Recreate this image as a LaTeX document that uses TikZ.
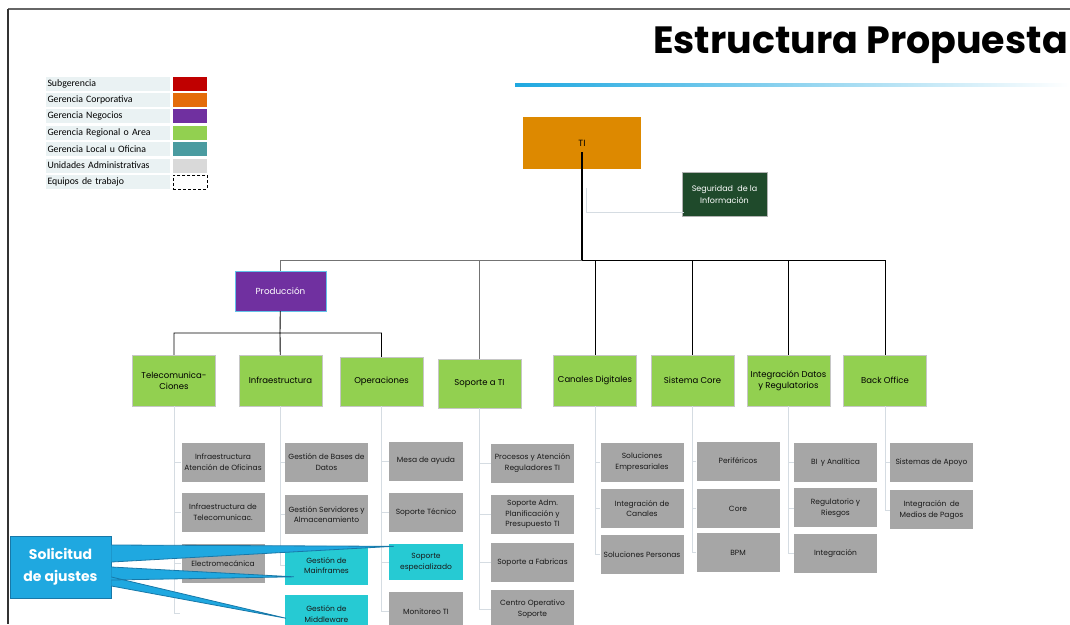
\documentclass[tikz,border=0pt]{standalone}
\usepackage{fontspec}
\setmainfont{Poppins}
\newfontfamily\legendfont{Carlito}
\usetikzlibrary{positioning, calc}

\definecolor{subred}{HTML}{C00000}
\definecolor{corporange}{HTML}{E46C0A}
\definecolor{negpurple}{HTML}{7030A0}
\definecolor{areagreen}{HTML}{92D050}
\definecolor{localteal}{HTML}{4A9BA0}
\definecolor{admgray}{HTML}{D9D9D9}
\definecolor{legendbg}{HTML}{EAF2F3}
\definecolor{tiorange}{HTML}{DD8900}
\definecolor{segreen}{HTML}{1F4A2B}
\definecolor{teamgray}{HTML}{A6A6A6}
\definecolor{adjcyan}{HTML}{26CAD3}
\definecolor{askblue}{HTML}{1FA8E0}
\definecolor{askedge}{HTML}{1878A8}
\definecolor{linegray}{HTML}{D5DCE2}

\tikzset{
    orgchart/.style={x=1pt, y=-1pt, font=\fontsize{7.5}{10.5}\selectfont, node distance=11pt},
    box/.style={minimum width=83pt, minimum height=39pt, align=center, inner sep=1pt},
    area/.style={box, draw=gray!45, fill=areagreen, minimum height=51pt, font=\fontsize{8.5}{11}\selectfont},
    team/.style={box, fill=teamgray, text=black!90},
    adjust/.style={box, fill=adjcyan, text=black!90},
    link/.style={draw=black, line width=0.9pt},
    sublink/.style={draw=linegray, line width=0.8pt},
    legendlab/.style={fill=legendbg, minimum width=124pt, minimum height=14pt, text width=121pt,
        align=left, inner sep=1.5pt, font=\legendfont\fontsize{9.8}{10}\selectfont},
    swatch/.style={minimum width=34pt, minimum height=14pt, inner sep=0pt, right=3pt of #1},
    callout/.style={fill=askblue, draw=askedge, line width=0.8pt, text=white, align=center,
        minimum width=101pt, minimum height=62pt, font=\bfseries\fontsize{14}{22}\selectfont},
}

\begin{document}
\begin{tikzpicture}[orgchart]
    \useasboundingbox (0,0) rectangle (1070,624);

    % frame and title
    \draw[draw=black!60, line width=1.5pt] (8,9) -- (1070,9);
    \draw[draw=black!80, line width=1.5pt] (8,9) -- (8,624);
    \node[anchor=east, inner sep=0pt, font=\bfseries\fontsize{38}{38}\selectfont] (title) at (1068,45) {Estructura Propuesta};
    \shade[left color=askblue, right color=white] (515,83.5) rectangle (1070,86.5);

    % legend
    \node[legendlab] (lg1) at (108,83.5) {Subgerencia};
    \node[legendlab, below=2pt of lg1] (lg2) {Gerencia Corporativa};
    \node[legendlab, below=2pt of lg2] (lg3) {Gerencia Negocios};
    \node[legendlab, below=2pt of lg3] (lg4) {Gerencia Regional o Area};
    \node[legendlab, below=2pt of lg4] (lg5) {Gerencia Local u Oficina};
    \node[legendlab, below=2pt of lg5] (lg6) {Unidades Administrativas};
    \node[legendlab, below=2pt of lg6] (lg7) {Equipos de trabajo};
    \node[swatch=lg1, fill=subred] (sw1) {};
    \node[swatch=lg2, fill=corporange] (sw2) {};
    \node[swatch=lg3, fill=negpurple] (sw3) {};
    \node[swatch=lg4, fill=areagreen] (sw4) {};
    \node[swatch=lg5, fill=localteal] (sw5) {};
    \node[swatch=lg6, fill=admgray] (sw6) {};
    \node[swatch=lg7, draw=black, densely dashed, fill=white] (sw7) {};

    % top of the chart
    \node[fill=tiorange, minimum width=118pt, minimum height=52pt, font=\fontsize{9}{10}\selectfont] (ti) at (582,143) {TI};
    \node[fill=segreen, draw=gray!60, text=white, minimum width=85pt, minimum height=44pt, align=center,
        font=\fontsize{8}{12}\selectfont] (seg) at (724.5,194) {Seguridad \ de la\\Información};
    \node[fill=negpurple, draw=askblue!70, text=white, minimum width=91pt, minimum height=40pt,
        font=\fontsize{8.8}{10}\selectfont] (prod) at (280.5,291) {Producción};
    \coordinate (bus) at (582,260);
    \coordinate (prodbus) at (280,333);

    % areas
    \node[area] (tel)  at (174,380.5)   {Telecomunica-\\Ciones};
    \node[area] (inf)  at (280.5,380.5) {Infraestructura};
    \node[area, minimum height=49pt] (ope) at (381.5,381.5) {Operaciones};
    \node[area, minimum height=49pt] (sop) at (479.5,383.5) {Soporte a TI};
    \node[area] (can)  at (595,380.5)   {Canales Digitales};
    \node[area] (cor)  at (692.5,380.5) {Sistema Core};
    \node[area] (intd) at (788.5,380.5) {Integración Datos\\y Regulatorios};
    \node[area] (bo)   at (885,380.5)   {Back Office};

    \draw[link, line width=2pt] ([yshift=-9pt]ti.center) -- (bus);
    \draw[sublink] ([shift={(4,45)}]ti.center) |- ([shift={(2,-4)}]seg.south west);
    \draw[link, draw=black!55] (bus) -| (prod) (bus) -| (sop);
    \draw[link] (bus) -| (can) (bus) -| (cor) (bus) -| (intd) (bus) -| (bo);
    \draw[link] (prod) -- (prodbus) -| (tel) (prodbus) -| (ope) (prodbus) -- (inf);

    % work teams
    \node[team] (tel1) at (223,462) {Infraestructura\\Atención de Oficinas};
    \node[team, below=of tel1] (tel2) {Infraestructura de\\Telecomunicac.};
    \node[team, below=12pt of tel2] (tel3) {Electromecánica};
    \coordinate (telend) at (180,613);

    \node[team] (inf1) at (326.5,462) {Gestión de Bases de\\Datos};
    \node[team, below=13pt of inf1] (inf2) {Gestión Servidores y\\Almacenamiento};
    \node[adjust, below=12pt of inf2] (inf3) {Gestión de\\Mainframes};
    \node[adjust, below=9pt of inf3] (inf4) {Gestión de\\Middleware};

    \node[team, minimum width=74pt] (ope1) at (426,461) {Mesa de ayuda};
    \node[team, minimum width=74pt, below=12pt of ope1] (ope2) {Soporte Técnico};
    \node[adjust, minimum width=74pt, minimum height=36pt, below=12pt of ope2] (ope3) {Soporte\\especializado};
    \node[team, minimum width=74pt, below=11pt of ope3] (ope4) {Monitoreo TI};

    \node[team] (sop1) at (532.5,463) {Procesos y Atención\\Reguladores TI};
    \node[team, below=12pt of sop1] (sop2) {Soporte Adm.\\Planificación y\\Presupuesto TI};
    \node[team, below=9pt of sop2] (sop3) {Soporte a Fabricas};
    \node[team, below=7pt of sop3] (sop4) {Centro Operativo\\Soporte};

    \node[team] (can1) at (642,462) {Soluciones\\Empresariales};
    \node[team, below=7pt of can1] (can2) {Integración de\\Canales};
    \node[team, below=7pt of can2] (can3) {Soluciones Personas};

    \node[team] (cor1) at (738,461) {Periféricos};
    \node[team, below=8pt of cor1] (cor2) {Core};
    \node[team, below=5pt of cor2] (cor3) {BPM};

    \node[team] (intd1) at (835.5,462.5) {BI \,y Analítica};
    \node[team, below=6pt of intd1] (intd2) {Regulatorio y\\Riesgos};
    \node[team, below=6pt of intd2] (intd3) {Integración};

    \node[team] (bo1) at (931.5,462.5) {Sistemas de Apoyo};
    \node[team, below=8pt of bo1] (bo2) {Integración \,de\\Medios de Pagos};

    \draw[sublink] (tel.south) |- (tel1) (tel.south) |- (tel2) (tel.south) |- (tel3) (tel.south) |- (telend);
    \draw[sublink] (inf.south) |- (inf1) (inf.south) |- (inf2) (inf.south) |- (inf3);
    \draw[sublink] (ope.south) |- (ope1) (ope.south) |- (ope2) (ope.south) |- (ope3) (ope.south) |- (ope4);
    \draw[sublink] (sop.south) |- (sop1) (sop.south) |- (sop2) (sop.south) |- (sop3) (sop.south) |- (sop4);
    \draw[sublink] (can.south) |- (can1) (can.south) |- (can2) (can.south) |- (can3);
    \draw[sublink] (cor.south) |- (cor1) (cor.south) |- (cor2) (cor.south) |- (cor3);
    \draw[sublink] (intd.south) |- (intd1) (intd.south) |- (intd2) (intd.south) |- (intd3);
    \draw[sublink] (bo.south) |- (bo1) (bo.south) |- (bo2);

    % callout for requested changes
    \node[callout] (ask) at (60.5,567) {Solicitud\\de ajustes};
    \fill[askblue] ([yshift=22pt]ask.east) -- ([shift={(5,-16)}]ope3.west) -- ([yshift=5pt]ask.east) -- cycle;
    \fill[askblue] (ask.east) -- ([shift={(9,11)}]inf3.west) -- ([yshift=-13pt]ask.east) -- cycle;
    \fill[askblue] ([yshift=-10pt]ask.east) -- ([shift={(1,4)}]inf4.west) -- ([yshift=-19pt]ask.east) -- cycle;
    \draw[askedge, line width=0.8pt] ([yshift=22pt]ask.east) -- ([shift={(5,-16)}]ope3.west) -- ([yshift=5pt]ask.east);
    \draw[askedge, line width=0.8pt] (ask.east) -- ([shift={(9,11)}]inf3.west) -- ([yshift=-13pt]ask.east);
    \draw[askedge, line width=0.8pt] ([yshift=-10pt]ask.east) -- ([shift={(1,4)}]inf4.west) -- ([yshift=-19pt]ask.east);
\end{tikzpicture}
\end{document}
